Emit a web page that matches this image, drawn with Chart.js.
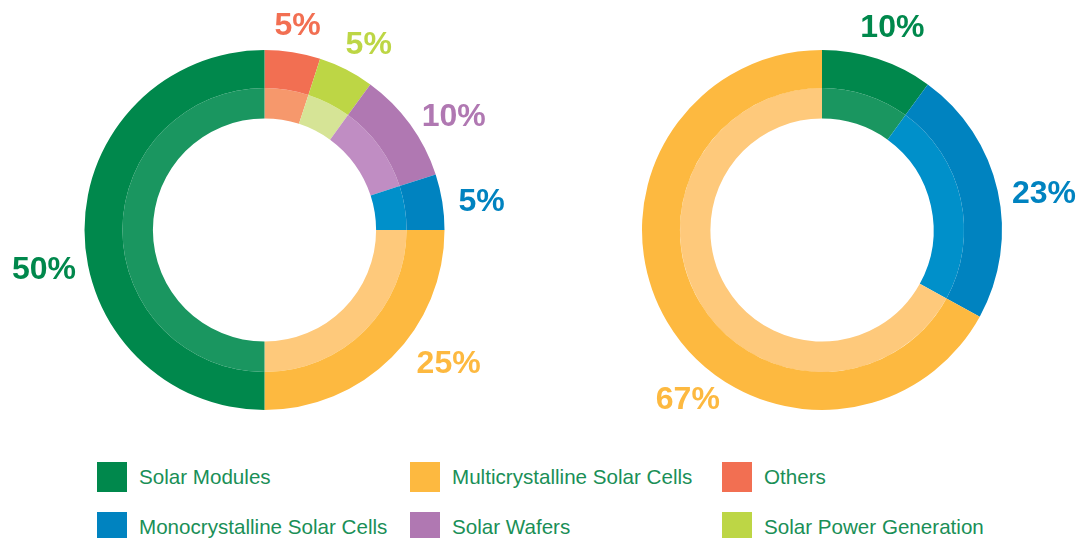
<!DOCTYPE html>
<html>
<head>
<meta charset="utf-8">
<script src="https://cdn.jsdelivr.net/npm/chart.js@4"></script>
<style>
  html, body { margin: 0; padding: 0; background: #ffffff; }
  #wrap { position: relative; width: 1081px; height: 538px; overflow: hidden; background: #fff; }
  canvas { position: absolute; top: 0; }
  .lg { position: absolute; font-family: "Liberation Sans", Arial, sans-serif; font-size: 20.6px; color: #1a8f57; white-space: nowrap; }
  .sw { position: absolute; width: 30px; height: 30px; }
</style>
</head>
<body>
<div id="wrap">
  <canvas id="c1" width="540" height="460" style="left:0px"></canvas>
  <canvas id="c2" width="541" height="460" style="left:540px"></canvas>
</div>
<script>
// ---- data ----
const legendCategories = ['Solar Modules', 'Multicrystalline Solar Cells', 'Others',
                          'Monocrystalline Solar Cells', 'Solar Wafers', 'Solar Power Generation'];
const leftCategories = ['Others', 'Solar Power Generation', 'Solar Wafers',
                        'Monocrystalline Solar Cells', 'Multicrystalline Solar Cells', 'Solar Modules'];
const leftValues = [5, 5, 10, 5, 25, 50];
const rightCategories = ['Solar Modules', 'Monocrystalline Solar Cells', 'Multicrystalline Solar Cells'];
const rightValues = [10, 23, 67];

// ---- style ----
const darkColors = {
  'Solar Modules': '#00884c',
  'Multicrystalline Solar Cells': '#fdb940',
  'Others': '#f26f52',
  'Monocrystalline Solar Cells': '#0083c0',
  'Solar Wafers': '#b078b2',
  'Solar Power Generation': '#bdd645'
};
const lightColors = {
  'Solar Modules': '#1a9660',
  'Multicrystalline Solar Cells': '#fec97b',
  'Others': '#f6986c',
  'Monocrystalline Solar Cells': '#0090ca',
  'Solar Wafers': '#c08dc3',
  'Solar Power Generation': '#d6e496'
};
const labelColors = {
  'Solar Modules': '#00884c',
  'Multicrystalline Solar Cells': '#fdb940',
  'Others': '#f26f52',
  'Monocrystalline Solar Cells': '#0083c0',
  'Solar Wafers': '#b078b2',
  'Solar Power Generation': '#bdd645'
};
// label placement relative to arc mid-angle (degrees shift, radius px)
const leftLabelShift = [0.2, 2.3, 4.9, 1.4, -9.2, -10.2];
const leftLabelRadius = [207, 213, 221, 219, 227, 224];
const rightLabelShift = [1.1, 3.1, -21];
const rightLabelRadius = [215, 225, 216];

const labelPlugin = {
  id: 'pctLabels',
  afterDatasetsDraw(chart, args, opts) {
    const ctx = chart.ctx;
    const meta = chart.getDatasetMeta(0);
    const cats = opts.categories;
    ctx.save();
    ctx.font = 'bold 32px "Liberation Sans", Arial, sans-serif';
    ctx.textAlign = 'center';
    ctx.textBaseline = 'middle';
    meta.data.forEach((arc, i) => {
      const p = arc.getProps(['x', 'y', 'startAngle', 'endAngle'], true);
      const mid = (p.startAngle + p.endAngle) / 2 + opts.shift[i] * Math.PI / 180;
      const r = opts.radius[i];
      const px = p.x + Math.cos(mid) * r;
      const py = p.y + Math.sin(mid) * r;
      ctx.fillStyle = labelColors[cats[i]];
      ctx.fillText(chart.data.datasets[0].data[i] + '%', px, py + 1);
    });
    ctx.restore();
  }
};

function makeChart(id, cats, vals, pad, shift, radius) {
  return new Chart(document.getElementById(id), {
    type: 'doughnut',
    data: {
      labels: cats,
      datasets: [
        { data: vals, backgroundColor: cats.map(c => darkColors[c]), borderWidth: 0, weight: 38 },
        { data: vals, backgroundColor: cats.map(c => lightColors[c]), borderWidth: 0, weight: 30.5 }
      ]
    },
    options: {
      responsive: false,
      animation: false,
      cutout: '62%',
      hoverOffset: 0,
      layout: { padding: pad },
      plugins: {
        legend: { display: false },
        tooltip: { enabled: false },
        pctLabels: { categories: cats, shift: shift, radius: radius }
      }
    },
    plugins: [labelPlugin]
  });
}

makeChart('c1', leftCategories, leftValues, { left: 84.5, right: 95.5, top: 50, bottom: 50 }, leftLabelShift, leftLabelRadius);
makeChart('c2', rightCategories, rightValues, { left: 102, right: 79, top: 50, bottom: 50 }, rightLabelShift, rightLabelRadius);

// ---- HTML legend ----
const wrap = document.getElementById('wrap');
const colX = [97, 410, 722];
const rowY = [462, 512];
legendCategories.forEach((c, i) => {
  const col = i % 3, row = Math.floor(i / 3);
  const sw = document.createElement('div');
  sw.className = 'sw';
  sw.style.left = colX[col] + 'px';
  sw.style.top = rowY[row] + 'px';
  sw.style.background = darkColors[c];
  wrap.appendChild(sw);
  const t = document.createElement('div');
  t.className = 'lg';
  t.textContent = c;
  t.style.left = (colX[col] + 42) + 'px';
  t.style.top = (rowY[row] + 3) + 'px';
  t.style.lineHeight = '24px';
  wrap.appendChild(t);
});
</script>
</body>
</html>
